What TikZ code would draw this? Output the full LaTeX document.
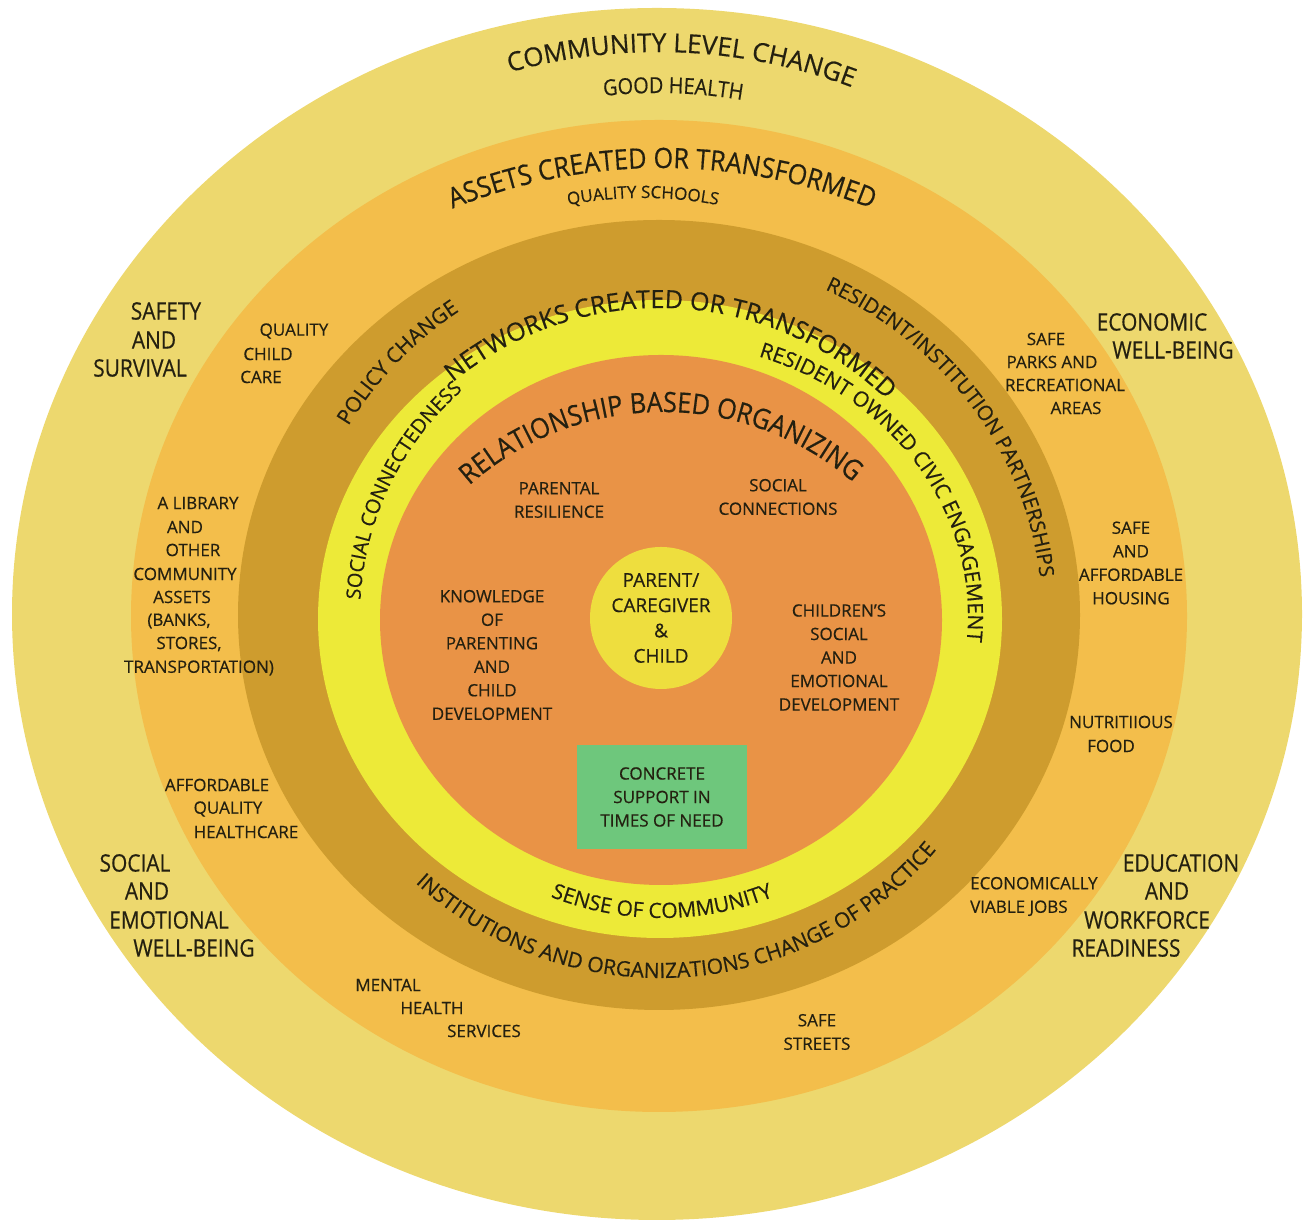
\documentclass[tikz,border=0pt]{standalone}
\usepackage{fontspec}
\setmainfont[FakeBold=0.5]{Open Sans}
\newfontfamily\condfont[FakeStretch=0.87,FakeBold=0.5]{Open Sans}
\newfontfamily\narrowfont[FakeStretch=0.9,FakeBold=0.5]{Open Sans}
\usetikzlibrary{decorations.text}

\definecolor{ink}{RGB}{36,32,16}
\definecolor{ringA}{RGB}{237,216,110}
\definecolor{ringB}{RGB}{243,190,75}
\definecolor{ringC}{RGB}{206,156,46}
\definecolor{ringD}{RGB}{237,234,56}
\definecolor{ringE}{RGB}{233,147,70}
\definecolor{coreyellow}{RGB}{238,222,62}
\definecolor{supportgreen}{RGB}{110,199,124}

% font sizes for the curved ring titles
\newcommand\fsCommunity{\fontsize{26}{30}\selectfont}
\newcommand\fsHealth{\narrowfont\fontsize{22}{26}\selectfont}
\newcommand\fsAssets{\narrowfont\fontsize{28}{32}\selectfont}
\newcommand\fsSchools{\fontsize{17}{20}\selectfont}
\newcommand\fsNetworks{\fontsize{25}{29}\selectfont}
\newcommand\fsBand{\fontsize{20.5}{24}\selectfont}
\newcommand\fsBandB{\fontsize{21}{25}\selectfont}
\newcommand\fsBandC{\fontsize{20}{24}\selectfont}
\newcommand\fsRelation{\narrowfont\fontsize{28}{32}\selectfont}
\newcommand\fsCommunityB{\fontsize{21}{25}\selectfont}

\tikzset{
  arctext/.style={decorate, decoration={text along path, text align=center,
      text color=ink, text={#1}}},
  biglbl/.style={font=\condfont\fontsize{24}{28.5}\selectfont, text=ink,
      align=center, inner sep=0pt},
  lbl/.style={font=\fontsize{17}{23.5}\selectfont, text=ink,
      align=center, inner sep=0pt},
}

\begin{document}
\begin{tikzpicture}[x=1pt,y=1pt]
\useasboundingbox (0,0) rectangle (1304,1222);

% concentric rings, outermost first
\fill[ringA] (657,608) ellipse[x radius=645, y radius=606];
\fill[ringB] (659,606) ellipse[x radius=528, y radius=496];
\fill[ringC] (659,607) ellipse[x radius=421, y radius=395];
\fill[ringD] (660,603) ellipse[x radius=342, y radius=319];
\fill[ringE] (661,602) ellipse[x radius=281, y radius=265];

% centre and concrete support box
\node[circle, fill=coreyellow, minimum size=142pt, inner sep=0pt, text=ink,
      align=center, font=\fontsize{19}{25.3}\selectfont] (core) at (661,604)
      {PARENT/\\CAREGIVER\\\&\\CHILD};
\node[rectangle, fill=supportgreen, minimum width=170pt, minimum height=104pt,
      inner sep=0pt, lbl] (support) at (662,425)
      {CONCRETE\\SUPPORT IN\\TIMES OF NEED};

% curved titles
\path[arctext={|\fsCommunity|COMMUNITY LEVEL CHANGE}]
  (658,620) ++(117.5:550) arc[start angle=117.5, end angle=57.5, radius=550];
\path[arctext={|\fsHealth|GOOD HEALTH}]
  (658,620) ++(108.3:509) arc[start angle=108.3, end angle=68.3, radius=509];
\path[arctext={|\fsAssets|ASSETS CREATED OR TRANSFORMED}]
  (662,494) ++(115:560) arc[start angle=115, end angle=65, radius=560];
\path[arctext={|\fsSchools|QUALITY SCHOOLS}]
  (643,624) ++(105:400) arc[start angle=105, end angle=75, radius=400];
\path[arctext={|\fsNetworks|NETWORKS CREATED OR TRANSFORMED}]
  (660,588) ++(135:326) arc[start angle=135, end angle=40.4, radius=326];
\path[arctext={|\fsBandB|POLICY CHANGE}]
  (660,606) ++(156:365) arc[start angle=156, end angle=116, radius=365];
\path[arctext={|\fsBand|RESIDENT/INSTITUTION PARTNERSHIPS}]
  (660,606) ++({382*cos(75)},{362*sin(75)})
  arc[start angle=75, end angle=-5, x radius=382, y radius=362];
\path[arctext={|\fsBandB|RESIDENT OWNED CIVIC ENGAGEMENT}]
  (660,606) ++({308*cos(80)},{274*sin(80)})
  arc[start angle=80, end angle=-15, x radius=308, y radius=274];
\path[arctext={|\fsBandC|SOCIAL CONNECTEDNESS}]
  (660,606) ++(184:300) arc[start angle=184, end angle=124, radius=300];
\path[arctext={|\fsRelation|RELATIONSHIP BASED ORGANIZING}]
  (663,518) ++(135.5:292) arc[start angle=135.5, end angle=45.5, radius=292];
\path[arctext={|\fsCommunityB|SENSE OF COMMUNITY}]
  (662,606) ++(240:302) arc[start angle=240, end angle=300, radius=302];
\path[arctext={|\fsCommunityB|INSTITUTIONS AND ORGANIZATIONS CHANGE OF PRACTICE}]
  (660,606) ++(223:362) arc[start angle=223, end angle=324.3, radius=362];

% outer ring: community level outcomes
\node[biglbl] (saf1) at (166,911) {SAFETY};
\node[biglbl] (saf2) at (154,882) {AND};
\node[biglbl] (saf3) at (140,854) {SURVIVAL};
\node[biglbl] (eco1) at (1152,900) {ECONOMIC};
\node[biglbl] (eco2) at (1173,872) {WELL-BEING};
\node[biglbl] (soc1) at (135,359) {SOCIAL};
\node[biglbl] (soc2) at (147,331) {AND};
\node[biglbl] (soc3) at (169,302) {EMOTIONAL};
\node[biglbl] (soc4) at (194,274) {WELL-BEING};
\node[biglbl] (edu1) at (1181,359) {EDUCATION};
\node[biglbl] (edu2) at (1167,331) {AND};
\node[biglbl] (edu3) at (1147,302) {WORKFORCE};
\node[biglbl] (edu4) at (1126,274) {READINESS};

% second ring: assets
\node[lbl] (qc1) at (294,891) {QUALITY};
\node[lbl] (qc2) at (268,868) {CHILD};
\node[lbl] (qc3) at (261,845) {CARE};
\node[lbl] (lib1) at (198,719) {A LIBRARY};
\node[lbl] (lib2) at (185,695) {AND};
\node[lbl] (lib3) at (193,672) {OTHER};
\node[lbl] (lib4) at (185,648) {COMMUNITY};
\node[lbl] (lib5) at (182,625) {ASSETS};
\node[lbl] (lib6) at (179,601) {(BANKS,};
\node[lbl] (lib7) at (189,578) {STORES,};
\node[lbl] (lib8) at (199,554) {TRANSPORTATION)};
\node[lbl] (aff1) at (217,437) {AFFORDABLE};
\node[lbl] (aff2) at (228,413) {QUALITY};
\node[lbl] (aff3) at (246,390) {HEALTHCARE};
\node[lbl] (men1) at (388,237) {MENTAL};
\node[lbl] (men2) at (432,214) {HEALTH};
\node[lbl] (men3) at (484,191) {SERVICES};
\node[lbl] (streets) at (817,190) {SAFE\\STREETS};
\node[lbl, align=left, anchor=west] (jobs) at (970,325.5) {ECONOMICALLY\\VIABLE JOBS};
\node[lbl] (nut1) at (1121,500) {NUTRITIIOUS};
\node[lbl] (nut2) at (1111,476) {FOOD};
\node[lbl] (housing) at (1131,659) {SAFE\\AND\\AFFORDABLE\\HOUSING};
\node[lbl] (park1) at (1046,883) {SAFE};
\node[lbl] (park2) at (1052,860) {PARKS AND};
\node[lbl] (park3) at (1065,837) {RECREATIONAL};
\node[lbl] (park4) at (1076,814) {AREAS};

% inner circle: protective factors
\node[lbl] (resil) at (559,722) {PARENTAL\\RESILIENCE};
\node[lbl] (socconn) at (778,725) {SOCIAL\\CONNECTIONS};
\node[lbl] (know) at (492,567) {KNOWLEDGE\\OF\\PARENTING\\AND\\CHILD\\DEVELOPMENT};
\node[lbl] (childdev) at (839,564.5) {CHILDREN'S\\SOCIAL\\AND\\EMOTIONAL\\DEVELOPMENT};
\end{tikzpicture}
\end{document}
